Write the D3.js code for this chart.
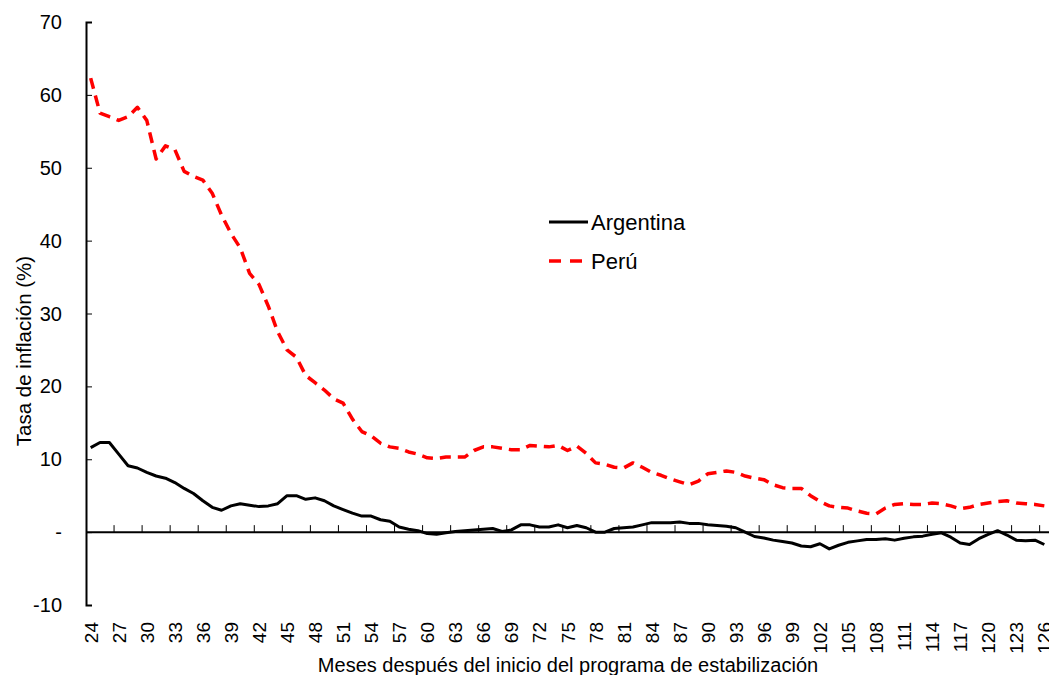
<!DOCTYPE html>
<html>
<head>
<meta charset="utf-8">
<script src="https://cdn.jsdelivr.net/npm/d3@7"></script>
<style>
  body { margin: 0; background: #fff; }
  svg { font-family: "Liberation Sans", Arial, sans-serif; }
</style>
</head>
<body>
<div class="chart"></div>
<script>
// meses despues del inicio del programa
const months = [
  24, 25, 26, 27, 28, 29, 30, 31, 32, 33, 34, 35, 36, 37, 38, 39, 40, 41, 42, 43,
  44, 45, 46, 47, 48, 49, 50, 51, 52, 53, 54, 55, 56, 57, 58, 59, 60, 61, 62, 63,
  64, 65, 66, 67, 68, 69, 70, 71, 72, 73, 74, 75, 76, 77, 78, 79, 80, 81, 82, 83,
  84, 85, 86, 87, 88, 89, 90, 91, 92, 93, 94, 95, 96, 97, 98, 99, 100, 101, 102, 103,
  104, 105, 106, 107, 108, 109, 110, 111, 112, 113, 114, 115, 116, 117, 118, 119, 120, 121, 122, 123,
  124, 125, 126
];

const argentina = [
  11.6, 12.3, 12.3, 10.7, 9.1, 8.8, 8.2, 7.7, 7.4, 6.8, 6.0, 5.3, 4.3, 3.4, 3.0, 3.6, 3.9, 3.7, 3.5, 3.6,
  3.9, 5.0, 5.0, 4.5, 4.7, 4.3, 3.6, 3.1, 2.6, 2.2, 2.2, 1.7, 1.5, 0.7, 0.4, 0.2, -0.2, -0.3, -0.1, 0.1,
  0.2, 0.3, 0.4, 0.5, 0.1, 0.3, 1.0, 1.0, 0.7, 0.7, 1.0, 0.6, 0.9, 0.6, 0.0, 0.0, 0.5, 0.6, 0.7, 1.0,
  1.3, 1.3, 1.3, 1.4, 1.2, 1.2, 1.0, 0.9, 0.8, 0.6, 0.0, -0.6, -0.8, -1.1, -1.3, -1.5, -1.9, -2.0, -1.6, -2.3,
  -1.8, -1.4, -1.2, -1.0, -1.0, -0.9, -1.1, -0.85, -0.65, -0.55, -0.3, -0.1, -0.7, -1.5, -1.7, -0.9, -0.3, 0.2, -0.4, -1.1,
  -1.2, -1.1, -1.7
];

const peru = [
  62.3, 57.5, 57.0, 56.5, 57.0, 58.3, 56.5, 51.2, 53.0, 52.5, 49.5, 48.8, 48.3, 46.5, 43.5, 41.0, 39.0, 35.5, 34.0, 31.0,
  27.5, 25.0, 24.0, 21.5, 20.5, 19.5, 18.3, 17.7, 15.5, 13.8, 13.2, 12.2, 11.7, 11.5, 11.0, 10.7, 10.2, 10.1, 10.3, 10.3,
  10.3, 11.2, 11.7, 11.7, 11.5, 11.3, 11.3, 11.9, 11.8, 11.7, 11.9, 11.2, 11.8, 10.8, 9.5, 9.3, 8.9, 8.8, 9.5, 8.9,
  8.2, 7.8, 7.3, 6.9, 6.5, 7.0, 8.0, 8.2, 8.4, 8.2, 7.7, 7.4, 7.2, 6.5, 6.1, 6.0, 6.0, 5.0, 4.2, 3.6,
  3.4, 3.3, 2.9, 2.6, 2.5, 3.3, 3.8, 3.9, 3.8, 3.8, 4.0, 3.9, 3.6, 3.2, 3.4, 3.8, 4.0, 4.2, 4.3, 4.0,
  3.9, 3.8, 3.6
];

const yTicks = [-10, 0, 10, 20, 30, 40, 50, 60, 70];
const seriesNames = ['Argentina', 'Perú'];

const width = 1049, height = 675;
const plot = { left: 86, right: 1049, top: 22, bottom: 605 };

const svg = d3.select('.chart').append('svg')
  .attr('width', width).attr('height', height);

// escalas
const x = d3.scaleBand().domain(months).range([plot.left, plot.right]).paddingInner(0).paddingOuter(0);
const xc = m => x(m) + x.bandwidth() / 2;
const y = d3.scaleLinear().domain([-10, 70]).range([plot.bottom, plot.top]);

// eje Y
const yAxis = d3.axisRight(y).tickValues(yTicks).tickSize(6).tickFormat('');
const yG = svg.append('g').attr('transform', `translate(${plot.left},0)`).call(yAxis);
yG.select('.domain').attr('stroke', '#000').attr('stroke-width', 2);
yG.selectAll('.tick line').attr('stroke', '#000').attr('stroke-width', 1);

svg.append('g').selectAll('text').data(yTicks).enter()
  .append('text')
  .attr('x', plot.left - 24)
  .attr('y', d => y(d))
  .attr('dy', '0.35em')
  .attr('text-anchor', 'end')
  .style('font-size', '20px')
  .text(d => d === 0 ? '-' : d);

// linea del cero con marcas
const labelled = months.filter((m, i) => i % 3 === 0);
svg.append('line')
  .attr('x1', plot.left).attr('x2', plot.right)
  .attr('y1', y(0)).attr('y2', y(0))
  .attr('stroke', '#000').attr('stroke-width', 2);
svg.append('g').selectAll('line').data(labelled.slice(1)).enter()
  .append('line')
  .attr('x1', d => x(d)).attr('x2', d => x(d))
  .attr('y1', y(0)).attr('y2', y(0) - 7)
  .attr('stroke', '#000').attr('stroke-width', 1);

// etiquetas X rotadas
svg.append('g').selectAll('text').data(labelled).enter()
  .append('text')
  .attr('transform', d => `translate(${xc(d) + 7},622) rotate(-90)`)
  .attr('text-anchor', 'end')
  .style('font-size', '19px')
  .text(d => d);

// lineas
const line = d3.line().x((d, i) => xc(months[i])).y(d => y(d));

svg.append('path')
  .datum(peru)
  .attr('d', line)
  .attr('fill', 'none')
  .attr('stroke', '#ff0000')
  .attr('stroke-width', 3.5)
  .attr('stroke-dasharray', '11,7')
  .attr('stroke-linejoin', 'round');

svg.append('path')
  .datum(argentina)
  .attr('d', line)
  .attr('fill', 'none')
  .attr('stroke', '#000')
  .attr('stroke-width', 3)
  .attr('stroke-linejoin', 'round');

// leyenda
const legend = svg.append('g').attr('transform', 'translate(549,222)');
legend.append('line').attr('x1', 0).attr('x2', 39).attr('y1', 0).attr('y2', 0)
  .attr('stroke', '#000').attr('stroke-width', 3);
legend.append('line').attr('x1', 0).attr('x2', 35).attr('y1', 39).attr('y2', 39)
  .attr('stroke', '#ff0000').attr('stroke-width', 3.5).attr('stroke-dasharray', '12,9');
legend.selectAll('text').data(seriesNames).enter()
  .append('text')
  .attr('x', 42)
  .attr('y', (d, i) => i * 39)
  .attr('dy', '0.35em')
  .style('font-size', '22px')
  .text(d => d);

// titulos de ejes
svg.append('text')
  .attr('transform', 'translate(31,351) rotate(-90)')
  .attr('text-anchor', 'middle')
  .style('font-size', '20.5px')
  .text('Tasa de inflación (%)');

svg.append('text')
  .attr('x', 568).attr('y', 672)
  .attr('text-anchor', 'middle')
  .style('font-size', '20px')
  .text('Meses después del inicio del programa de estabilización');
</script>
</body>
</html>
